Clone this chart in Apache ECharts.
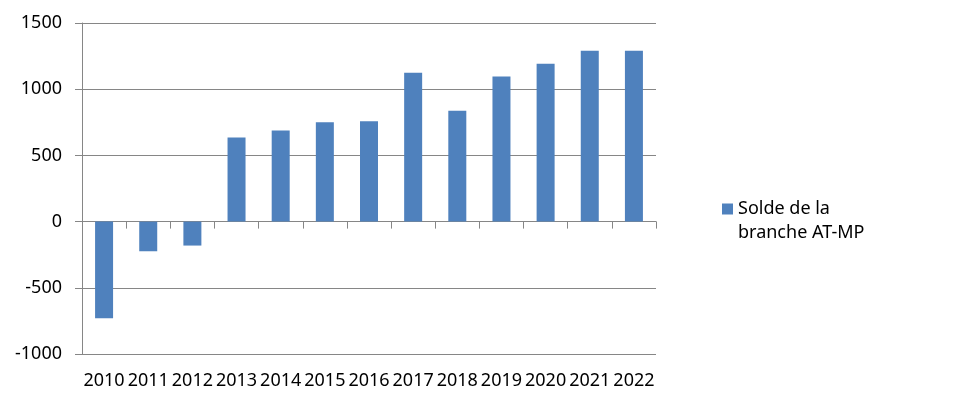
<!DOCTYPE html>
<html>
<head>
<meta charset="utf-8">
<script src="https://cdn.jsdelivr.net/npm/echarts@6/dist/echarts.min.js"></script>
<style>html,body{margin:0;padding:0;background:#fff}#c{width:955px;height:406px}</style>
</head>
<body>
<div id="c"></div>
<script>
var categories = ['2010','2011','2012','2013','2014','2015','2016','2017','2018','2019','2020','2021','2022'];
var soldeValues = [-730, -224, -181, 635, 688, 750, 757, 1125, 838, 1095, 1193, 1291, 1291];
var seriesName = 'Solde de la\nbranche AT-MP';
var yTicks = { min: -1000, max: 1500, interval: 500 };

var FONT = '"Noto Sans", sans-serif';
var GREY = '#868686';
var chart = echarts.init(document.getElementById('c'), null, { renderer: 'canvas' });
chart.setOption({
  animation: false,
  backgroundColor: '#ffffff',
  grid: { left: 82, right: 299, top: 23, bottom: 52, containLabel: false },
  legend: {
    data: [seriesName],
    orient: 'vertical',
    left: 722,
    top: 173,
    padding: 0,
    itemWidth: 11,
    itemHeight: 11,
    itemGap: 0,
    icon: 'rect',
    formatter: function (name) { return ' \n' + name; },
    textStyle: { fontFamily: FONT, fontSize: 18, color: '#000', lineHeight: 24 }
  },
  xAxis: [
    {
      type: 'category',
      data: categories,
      position: 'bottom',
      axisLine: { show: false, onZero: false },
      axisTick: { show: false },
      splitLine: { show: false },
      axisLabel: { interval: 0, margin: 18, fontFamily: FONT, fontSize: 18, color: '#000' }
    },
    {
      type: 'category',
      data: categories,
      position: 'top',
      axisLine: { show: true, onZero: true, lineStyle: { color: GREY, width: 1 } },
      axisTick: { show: true, inside: true, length: 7, interval: 0, lineStyle: { color: GREY } },
      axisLabel: { show: false },
      splitLine: { show: false }
    }
  ],
  yAxis: {
    type: 'value',
    min: yTicks.min,
    max: yTicks.max,
    interval: yTicks.interval,
    axisLine: { show: true, lineStyle: { color: GREY, width: 1 } },
    axisTick: { show: true, length: 7, lineStyle: { color: GREY } },
    splitLine: { show: true, lineStyle: { color: GREY, width: 1 } },
    axisLabel: { margin: 20, fontFamily: FONT, fontSize: 18, color: '#000', formatter: function (v) { return String(v); } }
  },
  series: [{
    name: seriesName,
    type: 'bar',
    xAxisIndex: 0,
    data: soldeValues,
    barWidth: 18,
    itemStyle: { color: '#4F81BD' }
  }]
});
</script>
</body>
</html>
